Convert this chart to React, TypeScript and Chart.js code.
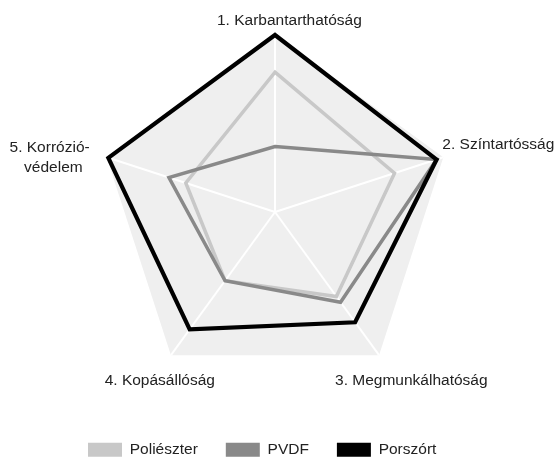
import React, { useEffect, useRef } from "react";
import { Chart, registerables } from "chart.js";

Chart.register(...registerables);

const AXIS_LABELS: (string | string[])[] = [
  "1. Karbantarthatóság",
  "2. Színtartósság",
  "3. Megmunkálhatóság",
  "4. Kopásállóság",
  ["5. Korrózió-", "védelem"],
];

const SERIES_NAMES = ["Poliészter", "PVDF", "Porszórt"];
const POLIESZTER = [7.9, 7.1, 5.9, 4.8, 5.3];
const PVDF = [3.7, 9.6, 6.3, 4.8, 6.3];
const PORSZORT = [10, 9.6, 7.7, 8.2, 9.9];
const SCALE_MIN = 0;
const SCALE_MAX = 10;

const COLORS = ["#c8c8c8", "#898989", "#000000"];
const LINE_WIDTHS = [3.5, 3.5, 4.2];

// label placement relative to each axis end point: [align, dx, dy] per line
const LABEL_PLACEMENT: { align: CanvasTextAlign; lines: [number, number][] }[] = [
  { align: "left", lines: [[-58, -10]] },
  { align: "left", lines: [[-1, -8]] },
  { align: "left", lines: [[-44, 30]] },
  { align: "right", lines: [[44, 30]] },
  { align: "right", lines: [[-17, -5], [-24, 15]] },
];

const FONT_FAMILY = "'Liberation Sans', Arial, Helvetica, sans-serif";
const FONT_SIZE = 15.5;

const axisLabelPlugin = {
  id: "axisLabelPlugin",
  afterDraw(chart: any) {
    const scale = chart.scales.r;
    const ctx = chart.ctx;
    const R = scale.getDistanceFromCenterForValue(SCALE_MAX);
    ctx.save();
    ctx.font = `${FONT_SIZE}px ${FONT_FAMILY}`;
    ctx.fillStyle = "#222222";
    ctx.textBaseline = "alphabetic";
    AXIS_LABELS.forEach((lab, i) => {
      const p = scale.getPointPosition(i, R);
      const lines = Array.isArray(lab) ? lab : [lab];
      const place = LABEL_PLACEMENT[i];
      ctx.textAlign = place.align;
      lines.forEach((line, j) => {
        const [dx, dy] = place.lines[j] || place.lines[0];
        ctx.fillText(line, p.x + dx, p.y + dy);
      });
    });
    ctx.restore();
  },
};

export default function App() {
  const ref = useRef<HTMLCanvasElement | null>(null);

  useEffect(() => {
    if (!ref.current) return;
    const seriesData = [POLIESZTER, PVDF, PORSZORT];
    const chart = new Chart(ref.current, {
      type: "radar",
      data: {
        labels: AXIS_LABELS.map((l) => (Array.isArray(l) ? l.join(" ") : l)),
        datasets: SERIES_NAMES.map((name, i) => ({
          label: name,
          data: seriesData[i],
          borderColor: COLORS[i],
          backgroundColor: COLORS[i],
          borderWidth: LINE_WIDTHS[i],
          fill: false,
          pointRadius: 0,
          pointHoverRadius: 0,
          borderJoinStyle: "miter" as const,
          tension: 0,
          order: 3 - i,
        })),
      },
      options: {
        responsive: false,
        animation: false,
        layout: { padding: { left: 60, right: 67, top: 35, bottom: -8.5 } },
        scales: {
          r: {
            min: SCALE_MIN,
            max: SCALE_MAX,
            backgroundColor: "#efefef",
            grid: { display: false },
            angleLines: { display: true, color: "#ffffff", lineWidth: 2 },
            ticks: { display: false },
            pointLabels: { display: false },
          },
        },
        plugins: {
          tooltip: { enabled: false },
          legend: {
            position: "bottom",
            align: "start",
            title: { display: true, text: "", font: { size: 10, lineHeight: 1 }, padding: { top: 7, bottom: 8 } },
            labels: {
              boxWidth: 34,
              boxHeight: 14,
              padding: 28,
              color: "#222222",
              font: { family: FONT_FAMILY, size: FONT_SIZE },
              sort: (a: any, b: any) => a.datasetIndex - b.datasetIndex,
              generateLabels: (c: any) =>
                Chart.defaults.plugins.legend.labels
                  .generateLabels(c)
                  .map((it: any) => ({ ...it, lineWidth: 0 })),
            },
          },
        },
      },
      plugins: [axisLabelPlugin],
    });
    return () => chart.destroy();
  }, []);

  return (
    <div style={{ position: "absolute", left: 0, top: 0, width: 557, height: 459, background: "#ffffff" }}>
      <canvas ref={ref} width={557} height={459} style={{ display: "block" }} />
    </div>
  );
}
